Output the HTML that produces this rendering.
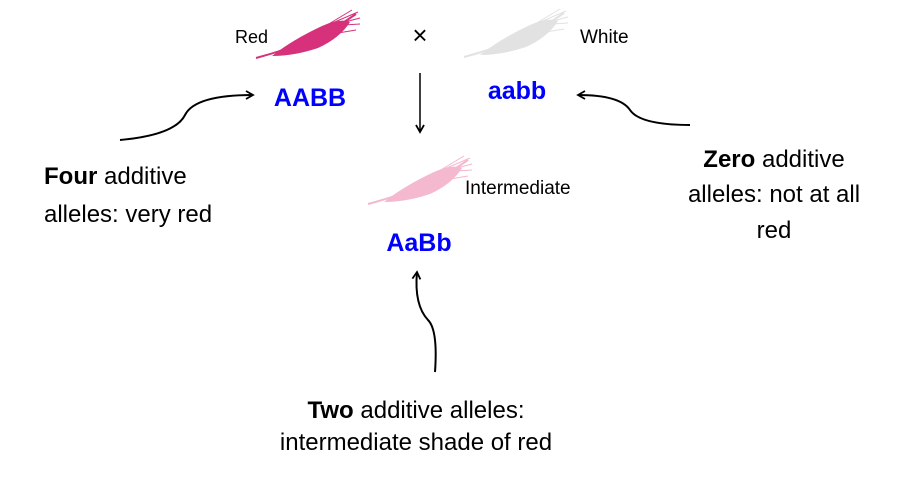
<!DOCTYPE html>
<html><head><style>
body{margin:0;background:#fff;}
svg{display:block;font-family:"Liberation Sans",sans-serif;}
</style></head><body>
<svg width="900" height="478" viewBox="0 0 900 478">
<defs>
<marker id="ah" markerWidth="10" markerHeight="10" refX="8" refY="5" orient="auto" markerUnits="userSpaceOnUse">
<path d="M1,1 L8,5 L1,9" fill="none" stroke="#000" stroke-width="1.8"/>
</marker>
<g id="wheat">
<path d="M0,48 Q30,40 60,28 Q80,18 100,4" fill="none" stroke-width="2"/>
<path d="M16,46 Q36,30 66,16 Q84,8 94,12 Q84,28 62,38 Q38,46 16,46Z" stroke="none"/>
<path d="M60,20 L102,2 M66,18 L104,8 M72,16 L104,14 M64,26 L100,20 M56,24 L96,0" fill="none" stroke-width="1"/>
</g>
</defs>
<g fill="#d6317a" stroke="#d6317a"><use href="#wheat" transform="translate(256,10)"/></g>
<g fill="#e2e2e2" stroke="#e2e2e2"><use href="#wheat" transform="translate(464,9)"/></g>
<g fill="#f4b8cf" stroke="#f4b8cf"><use href="#wheat" transform="translate(368,156)"/></g>
<text x="235" y="43" font-size="18">Red</text>
<text x="580" y="43" font-size="19">White</text>
<text x="465" y="194" font-size="19">Intermediate</text>
<text x="420" y="44" font-size="26" text-anchor="middle">×</text>
<text x="310" y="106" font-size="25" font-weight="bold" fill="#0000ff" text-anchor="middle">AABB</text>
<text x="517" y="99" font-size="25" font-weight="bold" fill="#0000ff" text-anchor="middle">aabb</text>
<text x="419" y="251" font-size="25" font-weight="bold" fill="#0000ff" text-anchor="middle">AaBb</text>
<line x1="420" y1="73" x2="420" y2="132" stroke="#000" stroke-width="1.5" marker-end="url(#ah)"/>
<path d="M120,140 Q175,135 185,115 Q195,95 253,95" fill="none" stroke="#000" stroke-width="2" marker-end="url(#ah)"/>
<path d="M690,125 Q640,125 630,110 Q620,95 578,95" fill="none" stroke="#000" stroke-width="2" marker-end="url(#ah)"/>
<path d="M435,372 Q438,330 428,320 Q414,305 417,272" fill="none" stroke="#000" stroke-width="2" marker-end="url(#ah)"/>
<g font-size="24">
<text x="44" y="184"><tspan font-weight="bold">Four</tspan> additive</text>
<text x="44" y="222">alleles: very red</text>
<text x="774" y="167" text-anchor="middle"><tspan font-weight="bold">Zero</tspan> additive</text>
<text x="774" y="202" text-anchor="middle">alleles: not at all</text>
<text x="774" y="238" text-anchor="middle">red</text>
<text x="416" y="418" text-anchor="middle"><tspan font-weight="bold">Two</tspan> additive alleles:</text>
<text x="416" y="450" text-anchor="middle">intermediate shade of red</text>
</g>
</svg>
</body></html>
